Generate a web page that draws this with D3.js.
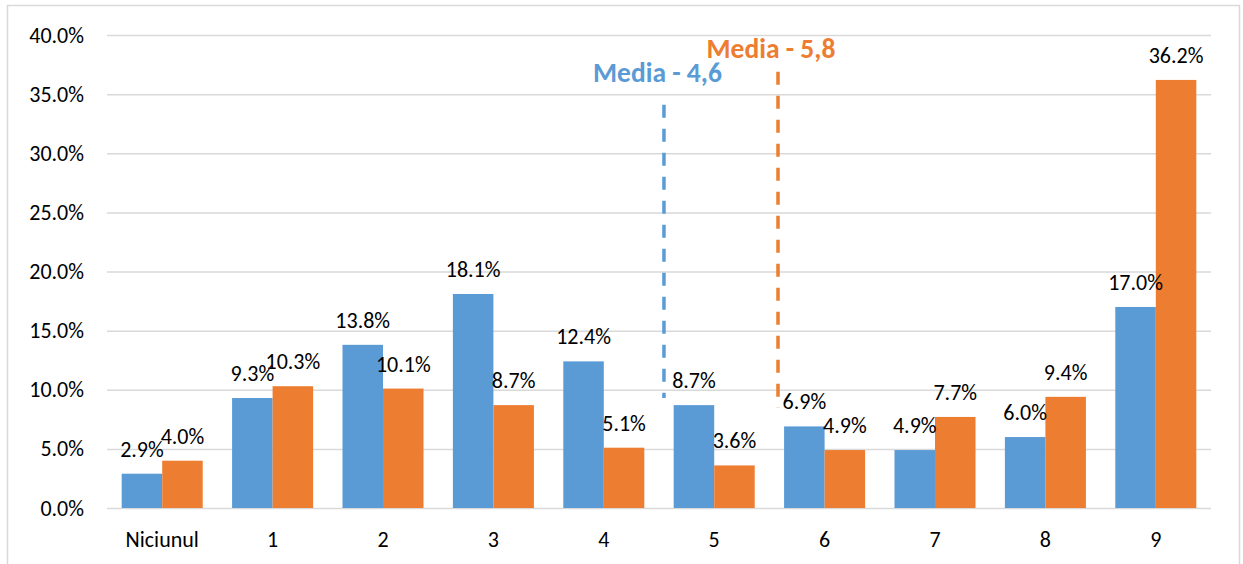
<!DOCTYPE html>
<html>
<head>
<meta charset="utf-8">
<script src="https://cdn.jsdelivr.net/npm/d3@7/dist/d3.min.js"></script>
<style>
  html, body { margin: 0; padding: 0; background: #fff; }
  svg { display: block; font-family: Carlito, Lato, "Open Sans", sans-serif; }
</style>
</head>
<body>
<svg id="chart" width="1243" height="564"></svg>
<script>
// ---- data ----
const categories = ["Niciunul", "1", "2", "3", "4", "5", "6", "7", "8", "9"];
const seriesBlue = [2.9, 9.3, 13.8, 18.1, 12.4, 8.7, 6.9, 4.9, 6.0, 17.0];
const seriesOrange = [4.0, 10.3, 10.1, 8.7, 5.1, 3.6, 4.9, 7.7, 9.4, 36.2];
const yTicks = [0, 5, 10, 15, 20, 25, 30, 35, 40];
const seriesNames = ["blue", "orange"];
const seriesColors = ["#5b9bd5", "#ed7d31"];
// mean annotations (position along category index axis, vertical extent in %)
const meanLabels = ["Media - 4,6", "Media - 5,8"];
const meanLinePos = [4.545, 5.578];
const meanLineTop = [34.1, 36.9];
const meanLineBottom = [9.3, 8.45];
const meanLabelPos = [4.486, 5.514];
const meanLabelY = [36.0, 38.05];

(function () {
// ---- layout ----
const svg = d3.select("#chart");
const mLeft = 107, mRight = 1211, mTop = 35, mBottom = 508;

// chart frame
svg.append("rect")
  .attr("x", 7.5).attr("y", 5.5).attr("width", 1232).attr("height", 600)
  .attr("fill", "none").attr("stroke", "#d9d9d9").attr("stroke-width", 1.5);

const x = d3.scaleBand().domain(categories).range([mLeft, mRight])
  .paddingInner(0.266).paddingOuter(0.133);
const xs = d3.scaleBand().domain(seriesNames).range([0, x.bandwidth()]);
const y = d3.scaleLinear().domain([0, 40]).range([mBottom, mTop]);
const xIdx = d3.scaleLinear().domain([0, categories.length - 1])
  .range([x(categories[0]) + x.bandwidth() / 2, x(categories[categories.length - 1]) + x.bandwidth() / 2]);

// gridlines + y axis
const yAxis = d3.axisLeft(y).tickValues(yTicks).tickSize(-(mRight - mLeft))
  .tickFormat(d => d.toFixed(1) + "%").tickPadding(23);
const gy = svg.append("g").attr("transform", `translate(${mLeft},0)`).call(yAxis);
gy.select(".domain").remove();
gy.selectAll(".tick line").attr("stroke", "#d9d9d9").attr("stroke-width", 1.5);
gy.selectAll(".tick text").attr("fill", "#000").style("font-size", "22px")
  .style("font-family", "Carlito, Lato, sans-serif");

// x axis
const xAxis = d3.axisBottom(x).tickSize(0).tickPadding(23);
const gx = svg.append("g").attr("transform", `translate(0,${mBottom})`).call(xAxis);
gx.select(".domain").remove();
gx.selectAll(".tick text").attr("fill", "#000").style("font-size", "22px")
  .style("font-family", "Carlito, Lato, sans-serif");

// bars
const allSeries = [seriesBlue, seriesOrange];
const rows = [];
categories.forEach((c, i) => {
  allSeries.forEach((s, j) => rows.push({ cat: c, series: seriesNames[j], color: seriesColors[j], value: s[i] }));
});

svg.append("g").selectAll("rect").data(rows).join("rect")
  .attr("x", d => x(d.cat) + xs(d.series))
  .attr("y", d => y(d.value))
  .attr("width", xs.bandwidth())
  .attr("height", d => mBottom - y(d.value))
  .attr("fill", d => d.color);

// mean dashed lines
meanLinePos.forEach((p, i) => {
  svg.append("line")
    .attr("x1", xIdx(p)).attr("x2", xIdx(p))
    .attr("y1", y(meanLineTop[i])).attr("y2", y(meanLineBottom[i]))
    .attr("stroke", seriesColors[i]).attr("stroke-width", 3.5)
    .attr("stroke-dasharray", "13,11");
  svg.append("text")
    .attr("x", xIdx(meanLabelPos[i])).attr("y", y(meanLabelY[i]))
    .attr("text-anchor", "middle")
    .attr("fill", seriesColors[i])
    .style("font-size", "27.5px").style("font-weight", "bold")
    .text(meanLabels[i]);
});

// data labels
svg.append("g").selectAll("text").data(rows).join("text")
  .attr("x", d => x(d.cat) + xs(d.series) + xs.bandwidth() / 2)
  .attr("y", d => y(d.value) - 17)
  .attr("text-anchor", "middle")
  .attr("fill", "#000")
  .style("font-size", "22px")
  .text(d => d.value.toFixed(1) + "%");
})();
</script>
</body>
</html>
